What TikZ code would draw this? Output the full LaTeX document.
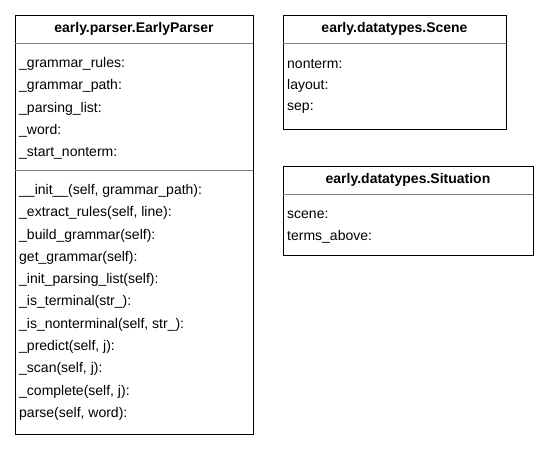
\documentclass[tikz,border=0pt]{standalone}
\usepackage{fontspec}
\setmainfont{Liberation Sans}
\begin{document}
\begin{tikzpicture}[x=1pt,y=-1pt,
  classbox/.style={draw=black,line width=0.8pt,fill=white,inner sep=0pt,anchor=north west},
  title/.style={font=\fontsize{14}{16}\selectfont\bfseries,inner sep=0pt,anchor=center},
  member/.style={font=\fontsize{14}{16}\selectfont,inner sep=0pt,anchor=west},
  rule/.style={draw=black!50,line width=0.6pt}]
\useasboundingbox (0,0) rectangle (549,450);

% class EarlyParser
\node[classbox,minimum width=238pt,minimum height=419pt] (parser) at (15,15) {};
\node[title] (ptitle) at (134,28.5) {early.parser.EarlyParser};
\coordinate (pa) at (15,43); \coordinate (pb) at (253,43);
\coordinate (pc) at (15,170); \coordinate (pd) at (253,170);
\draw[rule] (pa) -- (pb);
\draw[rule] (pc) -- (pd);
\foreach \t [count=\i from 0] in {{\_grammar\_rules:},{\_grammar\_path:},{\_parsing\_list:},{\_word:},{\_start\_nonterm:}}
  \node[member] (pattr\i) at (19,63.8+22.3*\i) {\t};
\foreach \t [count=\i from 0] in {{\_\_init\_\_(self, grammar\_path):},{\_extract\_rules(self, line):},{\_build\_grammar(self):},{get\_grammar(self):},{\_init\_parsing\_list(self):},{\_is\_terminal(str\_):},{\_is\_nonterminal(self, str\_):},{\_predict(self, j):},{\_scan(self, j):},{\_complete(self, j):},{parse(self, word):}}
  \node[member] (pmeth\i) at (19,190.8+22.3*\i) {\t};

% class Scene
\node[classbox,minimum width=223pt,minimum height=114pt] (scene) at (283,15) {};
\node[title] (stitle) at (394.5,28.5) {early.datatypes.Scene};
\coordinate (sa) at (283,43); \coordinate (sb) at (506,43);
\draw[rule] (sa) -- (sb);
\foreach \t [count=\i from 0] in {{nonterm:},{layout:},{sep:}}
  \node[member] (sattr\i) at (287,63.8+22.3*\i) {\t};

% class Situation
\node[classbox,minimum width=250pt,minimum height=89pt] (situation) at (283,166) {};
\node[title] (ttitle) at (408,179.5) {early.datatypes.Situation};
\coordinate (ta) at (283,194); \coordinate (tb) at (533,194);
\draw[rule] (ta) -- (tb);
\foreach \t [count=\i from 0] in {{scene:},{terms\_above:}}
  \node[member] (tattr\i) at (287,214.8+22.3*\i) {\t};
\end{tikzpicture}
\end{document}
